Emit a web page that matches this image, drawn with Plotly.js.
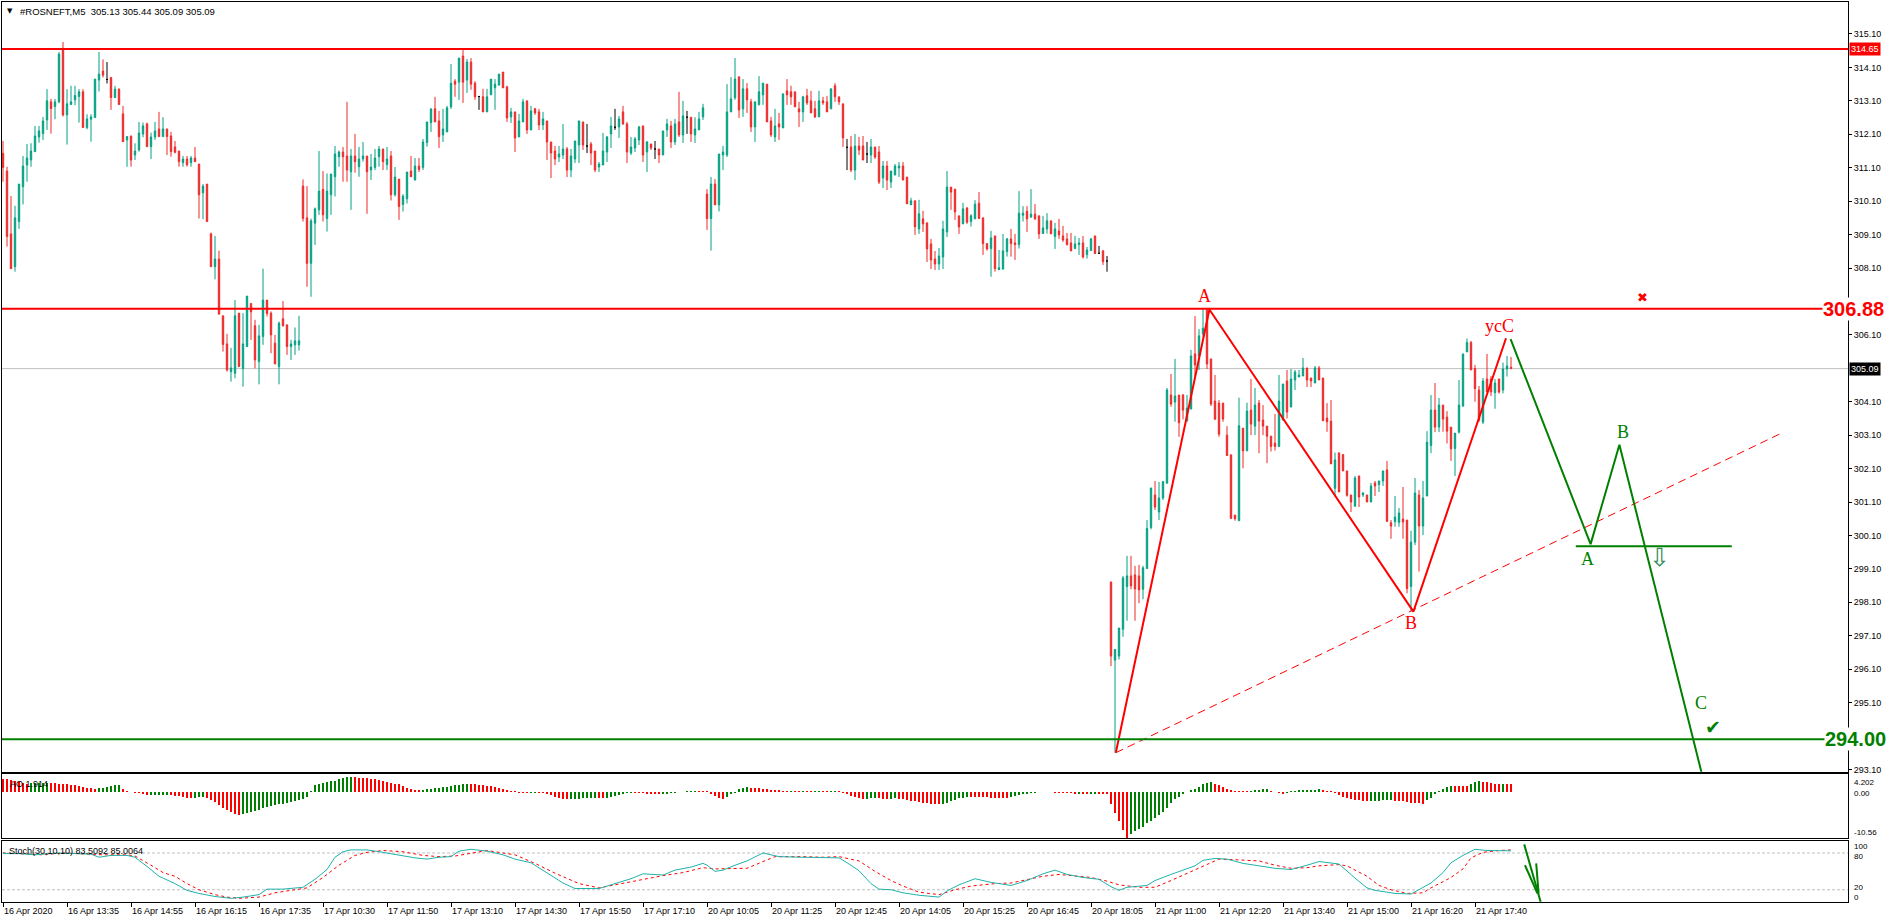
<!DOCTYPE html>
<html><head><meta charset="utf-8">
<script src="https://cdn.plot.ly/plotly-3.0.1.min.js"></script>
<style>html,body{margin:0;padding:0;background:#fff;overflow:hidden}#chart{width:1888px;height:923px}</style>
</head><body><div id="chart"></div>
<script>
// ---------- DATA ----------
const opens = [
311.53,311.00,309.12,308.14,309.49,310.53,311.18,311.33,311.58,312.02,
312.12,312.53,313.07,312.93,313.07,314.62,312.68,312.99,313.13,313.23,
313.37,312.30,312.55,312.60,313.72,313.99,313.74,313.80,313.20,313.45,
312.71,311.93,312.05,311.48,311.63,312.11,312.41,311.73,312.02,312.26,
312.03,312.26,312.05,311.72,311.60,311.25,311.36,311.25,311.39,311.21,
310.35,310.61,309.12,308.14,308.37,306.67,305.83,305.00,304.95,306.75,
305.09,305.75,307.04,306.37,305.30,306.05,307.14,306.75,305.85,305.15,
306.58,306.40,305.75,305.80,305.80,310.55,309.60,308.24,309.44,309.84,
310.45,309.58,310.29,310.83,311.43,311.57,311.45,310.98,311.45,311.13,
311.36,311.45,311.03,311.11,311.43,311.66,311.19,311.45,310.29,310.76,
310.00,310.17,311.00,310.73,311.15,311.11,311.85,312.45,312.86,312.50,
312.08,312.17,312.92,313.69,313.66,314.44,313.72,314.26,313.63,313.23,
313.22,312.77,313.28,313.49,313.57,313.96,313.52,312.62,312.77,312.02,
312.47,313.10,312.23,312.86,312.77,312.38,312.50,311.87,311.60,311.42,
311.48,311.66,311.03,311.36,311.78,312.47,311.75,311.81,311.60,311.12,
311.18,311.57,312.11,312.31,312.32,312.77,312.41,311.54,311.69,311.93,
312.35,311.57,311.81,311.66,311.66,311.48,312.23,312.35,311.87,312.47,
312.08,312.61,312.61,312.08,312.23,312.62,310.31,309.58,310.61,309.99,
311.48,311.48,312.77,313.19,313.81,312.86,313.46,313.07,312.32,312.98,
313.28,313.60,312.50,312.02,312.41,312.29,313.40,313.37,313.37,312.86,
312.77,313.25,313.10,312.86,312.62,313.10,313.07,312.86,313.55,313.22,
313.01,311.71,311.72,311.03,311.75,311.75,311.51,311.48,311.72,311.57,
310.79,311.15,310.67,310.88,311.09,311.15,310.82,309.99,310.11,309.27,
309.57,309.45,308.82,308.37,308.22,308.43,309.18,310.52,310.46,309.66,
309.42,309.90,309.49,309.57,310.04,309.60,308.83,308.68,309.06,308.05,
308.07,308.59,308.97,308.85,308.80,309.68,309.80,309.62,309.71,309.66,
309.13,309.27,309.51,309.04,309.21,309.06,308.97,308.85,308.68,308.80,
308.85,308.50,308.62,309.06,308.54,308.61,308.31,298.71,296.37,296.49,
297.29,298.57,298.89,298.92,298.89,298.49,299.11,300.34,301.31,300.80,
301.22,301.66,304.30,304.09,304.30,304.30,303.53,303.88,305.53,305.47,
306.13,306.84,305.38,304.12,304.06,304.06,303.10,302.51,300.71,300.54,
303.31,302.63,303.85,303.37,304.06,303.55,303.37,303.07,302.86,302.76,
303.55,304.72,303.94,304.75,304.84,304.87,305.11,304.81,304.66,305.11,
304.81,303.61,303.52,301.51,302.57,302.52,302.03,301.31,300.98,301.88,
301.31,301.31,301.10,301.67,301.62,301.73,302.06,300.48,300.51,300.49,
300.59,300.56,298.57,299.90,301.31,300.38,301.28,302.79,303.85,303.34,
304.00,303.64,303.34,302.70,303.19,303.97,305.59,305.87,305.09,304.45,
303.49,304.78,304.78,304.37,304.78,304.45,305.08,305.13];
const highs = [
311.90,311.13,310.25,309.96,310.61,311.45,311.81,311.83,312.35,312.35,
312.62,313.45,313.16,313.16,314.56,314.86,313.45,313.55,313.55,313.45,
313.45,312.70,312.70,313.75,314.56,314.34,314.26,313.80,313.55,313.47,
312.95,312.05,312.05,311.83,312.47,312.45,312.45,312.15,312.47,312.77,
312.61,312.26,312.17,311.90,311.60,311.45,311.45,311.45,311.72,311.21,
310.61,310.61,309.16,309.06,308.62,306.67,306.13,305.71,307.14,306.75,
306.75,307.26,307.04,306.55,306.40,308.08,307.14,306.80,306.10,306.50,
307.11,306.40,305.95,306.32,306.67,310.75,310.55,309.58,309.91,311.60,
311.00,310.93,310.91,311.75,311.61,311.72,313.07,311.66,312.11,311.72,
311.87,311.45,311.51,311.66,311.75,311.66,311.72,311.60,311.12,310.76,
310.31,310.97,311.45,311.39,311.39,311.96,312.47,312.86,313.22,312.80,
312.86,312.95,314.20,313.75,314.38,314.65,314.35,314.38,313.69,313.25,
313.46,313.46,313.75,313.75,313.90,313.96,313.55,312.89,312.77,312.71,
313.16,313.10,312.95,312.89,312.86,312.77,312.50,311.87,311.75,311.75,
312.41,311.72,311.66,311.90,312.50,312.47,312.41,311.87,311.60,311.27,
312.14,312.05,312.62,312.86,312.65,312.95,312.47,312.02,312.02,312.35,
312.35,311.90,311.81,311.90,311.66,312.20,312.56,312.50,312.56,313.37,
313.10,312.80,312.61,312.61,312.77,313.01,310.46,310.82,310.76,311.51,
311.75,313.60,313.81,314.38,313.84,313.75,313.63,313.16,313.07,313.84,
313.63,313.60,312.62,312.86,312.74,313.31,313.75,313.55,313.37,313.07,
313.25,313.46,313.40,313.10,313.40,313.22,313.25,313.46,313.63,313.22,
313.01,311.96,312.05,312.11,312.02,312.05,311.87,311.96,311.72,311.75,
311.30,311.30,311.00,311.21,311.27,311.27,310.82,310.20,310.11,310.14,
309.81,309.45,308.97,308.61,308.70,309.51,311.00,310.52,310.46,309.66,
310.05,309.90,309.71,310.13,310.37,309.60,308.83,309.21,309.06,308.64,
309.12,309.00,309.27,309.12,310.40,309.95,309.95,310.46,310.01,309.66,
309.66,309.74,309.51,309.45,309.57,309.36,309.15,309.15,309.06,309.00,
309.06,308.73,309.00,309.06,308.76,308.64,308.46,298.71,296.69,297.33,
298.89,299.49,299.49,299.19,299.22,299.19,300.56,301.52,301.73,301.70,
301.71,304.51,304.93,305.38,304.30,304.33,304.30,305.65,306.66,306.27,
306.90,306.90,305.38,304.90,304.15,304.06,303.37,302.51,300.71,304.22,
303.31,304.07,304.78,304.51,304.15,304.00,303.37,303.07,303.73,304.90,
304.63,305.05,305.08,305.05,305.05,305.41,305.11,304.81,305.17,305.17,
304.81,304.06,304.15,302.58,302.57,302.52,302.03,301.31,301.88,301.88,
301.40,301.31,301.67,301.73,301.73,302.03,302.33,300.56,301.28,300.92,
301.55,300.56,300.24,301.82,301.46,301.73,303.22,304.30,304.66,304.21,
304.00,303.82,303.34,303.16,304.75,305.53,305.99,305.92,305.20,304.57,
304.81,305.53,304.87,304.78,304.78,305.27,305.47,305.44];
const lows = [
310.68,308.74,308.08,307.99,309.27,310.00,310.68,311.13,311.58,311.85,
311.93,312.23,312.12,312.55,313.03,312.63,311.79,312.99,312.97,312.45,
312.30,312.25,311.88,312.60,313.38,313.80,313.62,312.83,313.20,312.99,
311.88,311.13,311.13,311.33,311.58,312.01,311.73,311.36,311.93,312.03,
312.03,311.48,311.43,311.53,311.13,311.13,311.13,311.13,311.28,309.58,
309.56,309.49,308.14,307.76,306.72,305.60,305.00,304.70,304.80,305.15,
304.55,305.75,305.95,305.10,304.62,305.80,306.65,305.55,305.23,304.62,
306.35,305.50,305.35,305.50,305.63,309.49,307.54,307.24,308.79,309.69,
309.49,309.19,309.69,310.24,311.13,310.68,310.68,309.84,310.95,310.83,
311.28,309.72,310.73,311.03,311.13,311.03,311.03,310.12,310.24,309.54,
309.79,310.03,310.83,310.73,310.97,311.03,311.73,312.17,312.47,311.69,
311.87,312.17,312.86,313.22,313.13,313.04,313.34,313.43,313.13,312.83,
312.77,312.77,313.28,312.83,313.57,313.49,312.47,312.44,311.57,312.02,
312.47,312.11,312.23,312.68,312.23,312.23,311.33,310.79,311.18,311.27,
311.36,310.82,310.82,311.24,311.24,311.63,311.54,311.18,310.97,310.97,
311.18,311.27,311.69,312.23,311.99,312.38,311.24,311.48,311.57,311.78,
311.27,310.97,311.63,311.36,311.24,311.48,312.02,311.69,311.78,312.02,
311.84,312.11,311.87,311.84,312.23,312.53,309.24,308.62,309.99,309.79,
311.03,311.42,312.77,313.13,312.59,312.62,312.74,312.17,311.87,312.98,
312.98,312.47,312.02,311.87,311.93,312.29,312.98,312.98,312.92,312.32,
312.47,312.98,312.74,312.59,312.62,312.98,312.77,312.86,313.07,312.98,
311.72,311.03,310.97,310.73,311.48,311.33,311.24,311.24,311.36,310.61,
310.49,310.43,310.49,310.88,310.82,310.73,310.02,309.99,309.09,309.12,
309.18,308.28,308.07,308.04,308.04,308.07,309.03,309.84,309.54,309.12,
309.42,309.42,309.34,309.57,309.58,308.49,308.62,307.84,307.99,308.05,
308.05,308.44,308.44,308.34,308.68,309.49,309.18,309.62,309.54,308.97,
309.13,309.13,309.12,308.67,308.97,308.88,308.77,308.61,308.68,308.49,
308.38,308.38,308.62,308.53,308.53,308.19,307.99,296.19,293.60,296.39,
297.07,297.55,298.49,297.55,298.07,298.19,299.11,300.28,300.86,300.56,
301.16,301.66,303.95,303.50,303.05,303.57,303.50,303.88,304.85,305.05,
306.04,305.08,303.97,303.55,303.05,303.50,302.49,300.61,300.54,300.54,
302.11,302.63,303.10,303.10,302.56,303.10,302.26,302.61,302.64,302.76,
303.55,303.60,303.94,304.45,304.84,304.87,304.54,304.54,304.66,304.75,
303.53,303.20,302.24,301.26,301.40,302.03,301.26,300.80,300.95,300.95,
301.25,301.10,301.10,301.28,301.40,301.58,300.52,300.00,300.36,300.36,
300.00,298.37,297.82,299.81,299.02,300.11,301.28,302.56,303.19,303.19,
303.20,302.85,302.33,301.88,303.15,303.95,305.59,305.05,304.10,303.50,
303.43,304.39,304.27,303.89,304.34,304.35,304.85,305.09];
const closes = [
311.11,309.04,308.08,309.60,310.61,311.15,311.39,311.60,312.05,312.20,
312.50,313.10,312.87,313.07,314.50,312.68,313.01,313.07,313.26,313.37,
312.30,312.56,312.62,313.75,313.90,313.87,313.74,313.20,313.45,312.99,
311.88,312.03,311.33,311.60,312.14,312.35,311.73,312.02,312.20,312.03,
312.26,312.03,311.58,311.56,311.28,311.36,311.19,311.39,311.28,310.29,
310.55,309.49,308.14,308.37,306.72,305.81,305.05,305.11,306.67,305.15,
305.83,307.26,306.79,305.35,306.07,307.14,306.74,306.10,305.23,306.45,
306.37,305.75,305.83,305.92,305.92,309.58,308.24,309.51,309.87,310.40,
309.69,310.40,310.91,311.51,311.57,311.43,311.03,311.45,311.28,311.36,
311.45,310.98,311.12,311.39,311.66,311.28,311.36,310.29,310.82,309.94,
310.25,310.97,310.83,311.15,311.05,311.87,312.47,312.86,312.47,312.03,
312.26,312.89,313.63,313.60,314.38,313.66,314.26,313.60,313.22,313.23,
312.77,313.22,313.75,313.60,313.90,313.49,312.59,312.77,311.99,312.50,
313.07,312.23,312.80,312.74,312.38,312.56,311.87,311.54,311.36,311.51,
311.66,311.03,311.45,311.90,312.50,311.78,311.75,311.54,311.03,311.21,
311.60,312.02,312.35,312.31,312.56,312.41,311.57,311.72,311.96,312.32,
311.48,311.87,311.69,311.66,311.48,312.20,312.41,311.87,312.41,312.08,
312.65,312.61,312.11,312.26,312.56,312.89,309.58,310.61,309.99,311.51,
311.57,312.77,313.16,313.75,312.83,313.46,313.13,312.32,313.07,313.37,
313.63,312.47,312.08,312.35,312.32,313.31,313.28,313.22,312.92,312.77,
313.22,313.04,312.74,312.62,313.10,313.04,312.77,313.46,313.22,313.07,
311.99,311.71,311.03,311.75,311.63,311.33,311.51,311.72,311.42,310.67,
311.15,310.73,311.00,311.15,311.15,310.73,310.02,310.11,309.33,309.72,
309.42,308.67,308.34,308.22,308.46,309.27,310.52,310.37,309.78,309.33,
309.87,309.47,309.66,310.01,309.58,308.83,308.67,309.00,308.08,308.11,
308.61,308.97,308.83,308.80,309.74,309.74,309.57,309.71,309.57,309.12,
309.30,309.51,309.12,309.27,309.09,308.94,308.80,308.61,308.82,308.85,
308.43,308.64,308.97,308.53,308.54,308.29,308.31,296.49,296.69,297.33,
298.83,298.89,298.59,298.50,298.47,299.13,300.31,301.52,300.95,301.22,
301.71,304.45,304.03,304.27,303.47,303.85,303.91,305.47,305.20,306.07,
306.30,305.23,304.03,303.58,303.13,303.58,302.49,300.61,300.60,303.38,
302.63,303.82,303.43,304.00,303.52,303.37,303.07,302.76,302.76,304.12,
304.63,303.79,304.78,304.99,304.90,305.11,304.75,304.72,305.11,304.75,
303.53,303.50,302.24,302.36,301.40,302.03,301.30,301.10,301.82,301.25,
301.37,301.10,301.58,301.58,301.73,302.03,300.52,300.38,300.65,300.77,
300.50,298.51,299.90,301.37,300.38,301.22,302.89,303.85,303.34,304.00,
303.58,303.22,302.69,303.16,304.00,305.53,305.87,305.05,304.49,303.55,
304.72,304.39,304.39,304.66,304.39,305.08,305.17,305.09];

const aoValues = [
3.1,3.0,2.8,2.6,2.4,2.2,2.0,2.05,2.1,2.15,
2.2,2.25,2.1,2.05,2.0,1.95,1.85,1.75,1.6,1.45,
1.3,1.1,0.95,0.75,0.9,1.1,1.3,1.5,1.65,1.7,
0.85,0.25,0.05,-0.05,-0.1,-0.5,-0.7,-0.65,-0.62,-0.6,
-0.58,-0.55,-0.7,-0.8,-0.95,-1.1,-1.2,-1.25,-1.2,-1.15,
-1.1,-1.4,-1.8,-2.3,-2.9,-3.5,-4.1,-4.6,-5.0,-5.1,
-5.0,-4.8,-4.5,-4.2,-4.0,-3.7,-3.4,-3.1,-2.9,-2.7,
-2.6,-2.5,-2.3,-2.1,-1.8,-1.5,-1.0,0.2,1.7,1.95,
2.1,2.3,2.5,2.7,3.0,3.3,3.5,3.6,3.5,3.4,
3.3,3.2,3.1,3.0,2.8,2.6,2.4,2.2,2.0,1.9,
1.5,1.1,0.8,0.6,0.5,0.6,0.7,0.8,0.9,1.0,
1.15,1.3,1.45,1.6,1.75,1.85,1.95,1.9,1.85,1.75,
1.65,1.5,1.35,1.2,1.0,0.8,0.6,0.35,0.2,-0.05,
-0.1,-0.12,-0.1,-0.08,-0.1,-0.15,-0.4,-0.7,-1.0,-1.25,
-1.45,-1.6,-1.55,-1.5,-1.45,-1.4,-1.35,-1.3,-1.25,-1.3,
-1.35,-1.2,-1.0,-0.8,-0.6,-0.4,-0.1,-0.05,-0.08,-0.1,
-0.2,-0.3,-0.35,-0.4,-0.5,-0.4,-0.3,-0.2,-0.1,0.0,
0.1,0.2,0.3,0.35,0.3,0.28,0.25,-0.4,-0.9,-1.3,
-1.5,-1.0,-0.5,-0.1,0.7,1.0,1.2,1.1,1.0,0.9,
0.8,0.7,0.6,0.55,0.5,0.4,0.35,0.4,0.35,0.3,
0.32,0.3,0.28,0.3,0.33,0.3,0.28,0.3,0.32,0.3,
-0.2,-0.5,-0.8,-1.0,-1.2,-1.5,-1.45,-1.4,-1.35,-1.4,
-1.45,-1.5,-1.45,-1.4,-1.5,-1.6,-1.7,-1.9,-2.0,-2.2,
-2.4,-2.5,-2.6,-2.7,-2.75,-2.7,-2.4,-2.0,-1.7,-1.4,
-1.2,-1.05,-1.1,-1.12,-1.15,-1.17,-1.19,-1.2,-1.22,-1.24,
-1.26,-1.28,-1.1,-0.9,-0.7,-0.5,-0.4,-0.2,-0.05,0.05,
0.06,0.02,-0.02,-0.05,-0.1,-0.15,-0.2,-0.25,-0.3,-0.28,
-0.3,-0.32,-0.3,-0.28,-0.3,-0.32,-0.35,-2.7,-4.8,-6.7,
-8.7,-10.56,-9.5,-9.0,-8.5,-7.9,-7.1,-6.7,-5.9,-5.2,
-4.6,-3.6,-2.4,-1.6,-1.1,-0.5,0.1,0.5,0.8,1.3,
1.8,2.2,2.3,2.0,1.6,1.2,0.7,0.5,0.35,0.3,
0.25,0.22,0.35,0.5,0.6,0.65,0.7,0.4,0.0,-0.2,
-0.35,-0.1,0.2,0.4,0.5,0.55,0.6,0.62,0.64,0.66,
0.5,0.35,0.2,-0.2,-0.6,-1.0,-1.3,-1.5,-1.7,-1.85,
-1.95,-2.05,-2.0,-1.95,-1.9,-1.85,-1.8,-1.75,-1.9,-2.0,
-2.1,-2.2,-2.35,-2.45,-2.55,-2.6,-1.8,-1.2,-0.5,0.3,
0.7,1.2,1.5,1.45,1.4,1.38,1.35,1.9,2.3,2.5,
2.45,2.3,2.1,2.0,1.95,2.0,1.95,1.914];

const stochMainBars = [0,4,8,11,14,18,22,24,27,31,33,36,39,43,46,49,53,57,60,64,66,70,75,78,81,83,85,87,91,95,99,103,106,109,112,114,117,121,125,128,132,136,140,143,149,153,157,160,165,168,172,175,176,178,180,183,186,190,194,200,206,209,212,214,217,219,222,225,229,234,236,239,243,247,252,256,260,263,266,270,274,277,279,281,286,288,292,298,300,303,306,310,314,318,322,324,326,329,334,338,341,343,348,352,354,357,360,362,365,368,371,375,377];
const stochMainVals = [79,79,77,78,80,79,78,73,76,76,73,58,42,30,19,14,9,6,8,12,21,21,24,37,53,73,82,85,85,81,76,72,70,73,74,83,86,83,77,70,64,48,31,22,22,30,38,46,44,52,57,63,60,50,52,60,67,80,74,73,73,72,60,51,30,21,20,15,11,8,18,28,38,32,27,35,46,52,45,40,37,25,19,24,27,35,45,59,68,71,70,63,59,55,53,56,60,66,62,39,23,19,14,13,20,31,48,64,76,86,84,84,83.51];
const stochSignalBars = [0,5,10,15,20,25,31,33,37,40,43,46,49,53,56,59,64,68,72,76,80,84,88,91,95,100,105,109,113,117,121,125,128,133,138,144,149,153,157,162,165,170,175,178,184,186,190,193,200,205,209,212,214,218,222,225,229,234,238,242,248,252,256,260,264,268,272,276,279,284,288,292,296,300,304,308,314,318,322,326,329,334,336,341,344,347,351,355,357,362,365,367,370,374,377];
const stochSignalVals = [80,78,77,80,78,77,77,75,60,48,42,30,20,12,8,6,8,15,19,23,40,60,76,81,84,82,76,74,75,80,84,80,77,63,47,30,23,28,33,40,43,48,56,54,54,55,66,74,74,73,74,70,67,50,35,26,16,12,20,26,30,31,36,42,45,43,40,34,28,24,24,35,47,58,70,69,67,60,55,56,59,61,59,42,27,20,14,15,23,40,54,72,81,84,85.01];

const timeTickBars = [0,16,32,48,64,80,96,112,128,144,160,176,192,208,224,240,256,272,288,304,320,336,352,368];
const timeTickLabels = ['16 Apr 2020','16 Apr 13:35','16 Apr 14:55','16 Apr 16:15','16 Apr 17:35','17 Apr 10:30','17 Apr 11:50','17 Apr 13:10','17 Apr 14:30','17 Apr 15:50','17 Apr 17:10','20 Apr 10:05','20 Apr 11:25','20 Apr 12:45','20 Apr 14:05','20 Apr 15:25','20 Apr 16:45','20 Apr 18:05','21 Apr 11:00','21 Apr 12:20','21 Apr 13:40','21 Apr 15:00','21 Apr 16:20','21 Apr 17:40'];
// price scale labels visible in the picture (307.10, 305.10 and 294.10 are hidden under the level labels there)
const priceTicks = [293.10,295.10,296.10,297.10,298.10,299.10,300.10,301.10,302.10,303.10,304.10,306.10,308.10,309.10,310.10,311.10,312.10,313.10,314.10,315.10];
const priceTickLabels = priceTicks.map(v => v.toFixed(2));

// drawn analysis objects (bar index, price)
const redWaveBars = [278.2, 301.6, 352.6, 375.75];
const redWavePrices = [293.60, 306.86, 297.82, 306.00];
const greenWaveBars = [376.9, 396.9, 404.1, 425.7];
const greenWavePrices = [305.97, 299.84, 302.81, 292.50];
const trendBars = [278.2, 444.1];
const trendPrices = [293.60, 303.13];
const levelABars = [393.2, 432.2];
const levelAPrice = 299.78;
const resistanceTop = 314.65, resistanceMid = 306.88, supportLow = 294.00, bidPrice = 305.09;
const redLabelText = ['A', 'B', 'ycC'];
const redLabelBars = [300.25, 351.9, 374.0];
const redLabelPrices = [307.26, 297.48, 306.38];
const greenLabelText = ['A', 'B', 'C'];
const greenLabelBars = [396.1, 404.9, 424.5];
const greenLabelPrices = [299.41, 303.20, 295.09];
const aoMax = 4.202, aoMin = -10.56;
const stochArrowBars = [[380.3, 384.4], [380.5, 383.6], [383.3, 383.9]];
const stochArrowVals = [[94, 0.5], [60, 14], [63, 14]];

// ---------- STYLE / LAYOUT ----------
const BULL = '#05A083', BEAR = '#EE2A2A';
const PX = px => (px - 2) / 1846;
const PY = py => (902 - py) / 900;
const XR = [-0.25, 461.25];
const idx = opens.map((_, i) => i);
const isDoji = i => Math.abs(opens[i] - closes[i]) < 0.005;
const nd = idx.filter(i => !isDoji(i));
const dj = idx.filter(i => isDoji(i));

const traces = [];
traces.push({type:'candlestick', x:nd, open:nd.map(i=>opens[i]), high:nd.map(i=>highs[i]), low:nd.map(i=>lows[i]), close:nd.map(i=>closes[i]),
  increasing:{line:{color:BULL,width:1},fillcolor:BULL}, decreasing:{line:{color:BEAR,width:1},fillcolor:BEAR},
  whiskerwidth:0, xaxis:'x', yaxis:'y', hoverinfo:'skip'});
traces.push({type:'candlestick', x:dj, open:dj.map(i=>opens[i]), high:dj.map(i=>highs[i]), low:dj.map(i=>lows[i]), close:dj.map(i=>closes[i]),
  increasing:{line:{color:'#000',width:1},fillcolor:'#000'}, decreasing:{line:{color:'#000',width:1},fillcolor:'#000'},
  whiskerwidth:0, xaxis:'x', yaxis:'y', hoverinfo:'skip'});
traces.push({type:'scatter', mode:'lines', x:trendBars, y:trendPrices, line:{color:'#FF0000', width:1, dash:'8px,5px'}, xaxis:'x', yaxis:'y', hoverinfo:'skip'});
traces.push({type:'scatter', mode:'lines', x:redWaveBars, y:redWavePrices, line:{color:'#FF0000', width:2}, xaxis:'x', yaxis:'y', hoverinfo:'skip'});
traces.push({type:'scatter', mode:'lines', x:greenWaveBars, y:greenWavePrices, line:{color:'#008000', width:2}, xaxis:'x', yaxis:'y', hoverinfo:'skip'});
traces.push({type:'scatter', mode:'lines', x:levelABars, y:[levelAPrice, levelAPrice], line:{color:'#008000', width:2}, xaxis:'x', yaxis:'y', hoverinfo:'skip'});
const aoColors = aoValues.map((v, i) => (i > 0 && v > aoValues[i-1]) ? '#008000' : '#FF0000');
traces.push({type:'bar', x:idx, y:aoValues, width:0.66, marker:{color:aoColors, line:{width:0}}, xaxis:'x2', yaxis:'y2', hoverinfo:'skip'});
traces.push({type:'scatter', mode:'lines', x:stochSignalBars, y:stochSignalVals, line:{color:'#FF0000', width:1, dash:'3px,3px'}, xaxis:'x3', yaxis:'y3', hoverinfo:'skip'});
traces.push({type:'scatter', mode:'lines', x:stochMainBars, y:stochMainVals, line:{color:'#20B2AA', width:1}, xaxis:'x3', yaxis:'y3', hoverinfo:'skip'});

const baseX = {range:XR, showgrid:false, zeroline:false, showline:true, mirror:true, linecolor:'#000', linewidth:1, showticklabels:false, ticks:'', rangeslider:{visible:false}, fixedrange:true};
const baseY = {side:'right', showgrid:false, zeroline:false, showline:true, mirror:true, linecolor:'#000', linewidth:1, fixedrange:true};

const shapes = [
  {type:'line', xref:'paper', x0:0, x1:1, yref:'y', y0:bidPrice, y1:bidPrice, line:{color:'#C0C0C0', width:1}, layer:'below'},
  {type:'line', xref:'paper', x0:0, x1:1, yref:'y', y0:resistanceTop, y1:resistanceTop, line:{color:'#FF0000', width:2}},
  {type:'line', xref:'paper', x0:0, x1:1, yref:'y', y0:resistanceMid, y1:resistanceMid, line:{color:'#FF0000', width:2}},
  {type:'line', xref:'paper', x0:0, x1:1, yref:'y', y0:supportLow, y1:supportLow, line:{color:'#008000', width:2}},
  {type:'line', xref:'paper', x0:0, x1:1, yref:'y3', y0:80, y1:80, line:{color:'#C0C0C0', width:1, dash:'3px,2px'}, layer:'below'},
  {type:'line', xref:'paper', x0:0, x1:1, yref:'y3', y0:20, y1:20, line:{color:'#C0C0C0', width:1, dash:'3px,2px'}, layer:'below'}
];
stochArrowBars.forEach((b, k) => shapes.push({type:'line', xref:'x3', yref:'y3', x0:b[0], x1:b[1], y0:stochArrowVals[k][0], y1:stochArrowVals[k][1], line:{color:'#008000', width:2}}));

const SMALL = {family:'Liberation Sans, Arial, sans-serif', size:9, color:'#000'};
const SERIF = 'Liberation Serif, Times New Roman, serif';
const ann = [];
ann.push({xref:'paper', yref:'paper', x:PX(5), y:PY(11), xanchor:'left', yanchor:'middle', showarrow:false, text:'▼', font:{family:'DejaVu Sans', size:7, color:'#000'}});
ann.push({xref:'paper', yref:'paper', x:PX(18), y:PY(11), xanchor:'left', yanchor:'middle', showarrow:false, text:'#ROSNEFT,M5\u00a0\u00a0305.13 305.44 305.09 305.09', font:{family:'Liberation Sans, Arial, sans-serif', size:9.5, color:'#000'}});
ann.push({xref:'paper', yref:'paper', x:PX(8), y:PY(784), xanchor:'left', yanchor:'middle', showarrow:false, text:'AO 1.914', font:SMALL});
ann.push({xref:'paper', yref:'paper', x:PX(7), y:PY(851), xanchor:'left', yanchor:'middle', showarrow:false, text:'Stoch(30,10,10) 83.5092 85.0064', font:SMALL});
ann.push({xref:'paper', yref:'y', x:1, xshift:1, y:resistanceTop, xanchor:'left', yanchor:'middle', showarrow:false, text:resistanceTop.toFixed(2), bgcolor:'#FF0000', borderpad:1, font:{family:SMALL.family, size:9, color:'#fff'}});
ann.push({xref:'paper', yref:'y', x:1, xshift:1, y:bidPrice, xanchor:'left', yanchor:'middle', showarrow:false, text:bidPrice.toFixed(2), bgcolor:'#000', borderpad:1, font:{family:SMALL.family, size:9, color:'#fff'}});
ann.push({xref:'paper', yref:'y', x:PX(1885), y:resistanceMid, xanchor:'right', yanchor:'middle', showarrow:false, text:'<b>'+resistanceMid.toFixed(2)+'</b>', bgcolor:'#fff', borderpad:0, font:{family:'Liberation Sans, Arial, sans-serif', size:20, color:'#FF0000'}});
ann.push({xref:'paper', yref:'y', x:PX(1887), y:supportLow, xanchor:'right', yanchor:'middle', showarrow:false, text:'<b>'+supportLow.toFixed(2)+'</b>', bgcolor:'#fff', borderpad:0, font:{family:'Liberation Sans, Arial, sans-serif', size:20, color:'#008000'}});
[['4.202',782],['0.00',793],['-10.56',832],['100',846],['80',856.5],['20',887.5],['0',897.5]].forEach(l =>
  ann.push({xref:'paper', yref:'paper', x:PX(1852), y:PY(l[1]), xanchor:'left', yanchor:'middle', showarrow:false, text:l[0], font:{family:SMALL.family, size:8, color:'#000'}}));
redLabelText.forEach((t, k) => ann.push({xref:'x', yref:'y', x:redLabelBars[k], y:redLabelPrices[k], showarrow:false, text:t, font:{family:SERIF, size:18, color:'#FF0000'}}));
greenLabelText.forEach((t, k) => ann.push({xref:'x', yref:'y', x:greenLabelBars[k], y:greenLabelPrices[k], showarrow:false, text:t, font:{family:SERIF, size:18, color:'#008000'}}));
ann.push({xref:'x', yref:'y', x:409.9, y:307.23, showarrow:false, text:'✖', font:{family:'DejaVu Sans', size:13, color:'#FF0000'}});
ann.push({xref:'x', yref:'y', x:427.4, y:294.37, showarrow:false, text:'✔', font:{family:'DejaVu Sans', size:19, color:'#008000'}});
ann.push({xref:'x', yref:'y', x:414.0, y:299.45, showarrow:false, text:'⇩', font:{family:'DejaVu Sans', size:25, color:'#2E8B57'}});

const layout = {
  width:1888, height:923, margin:{l:2, r:40, t:2, b:21, pad:0},
  paper_bgcolor:'#fff', plot_bgcolor:'#fff', showlegend:false, boxgap:0.5, boxmode:'overlay', bargap:0,
  font:SMALL,
  xaxis: Object.assign({}, baseX, {anchor:'y'}),
  xaxis2: Object.assign({}, baseX, {anchor:'y2'}),
  xaxis3: Object.assign({}, baseX, {anchor:'y3', showticklabels:true, ticks:'outside', ticklen:4, tickcolor:'#000', tickwidth:1,
           tickmode:'array', tickvals:timeTickBars, ticktext:timeTickLabels, ticklabelposition:'outside right', tickfont:SMALL}),
  yaxis: Object.assign({}, baseY, {domain:[0.1448, 1], range:[293.033, 316.057], anchor:'x', tickmode:'array', tickvals:priceTicks, ticktext:priceTickLabels,
           ticks:'outside', ticklen:3, tickcolor:'#000', tickfont:SMALL}),
  yaxis2: Object.assign({}, baseY, {domain:[0.0708, 0.1422], range:[aoMin, aoMax], anchor:'x2', showticklabels:false, ticks:''}),
  yaxis3: Object.assign({}, baseY, {domain:[0, 0.0681], range:[0, 100], anchor:'x3', showticklabels:false, ticks:''}),
  shapes: shapes,
  annotations: ann
};
Plotly.newPlot('chart', traces, layout, {staticPlot:true, displayModeBar:false});
</script></body></html>
